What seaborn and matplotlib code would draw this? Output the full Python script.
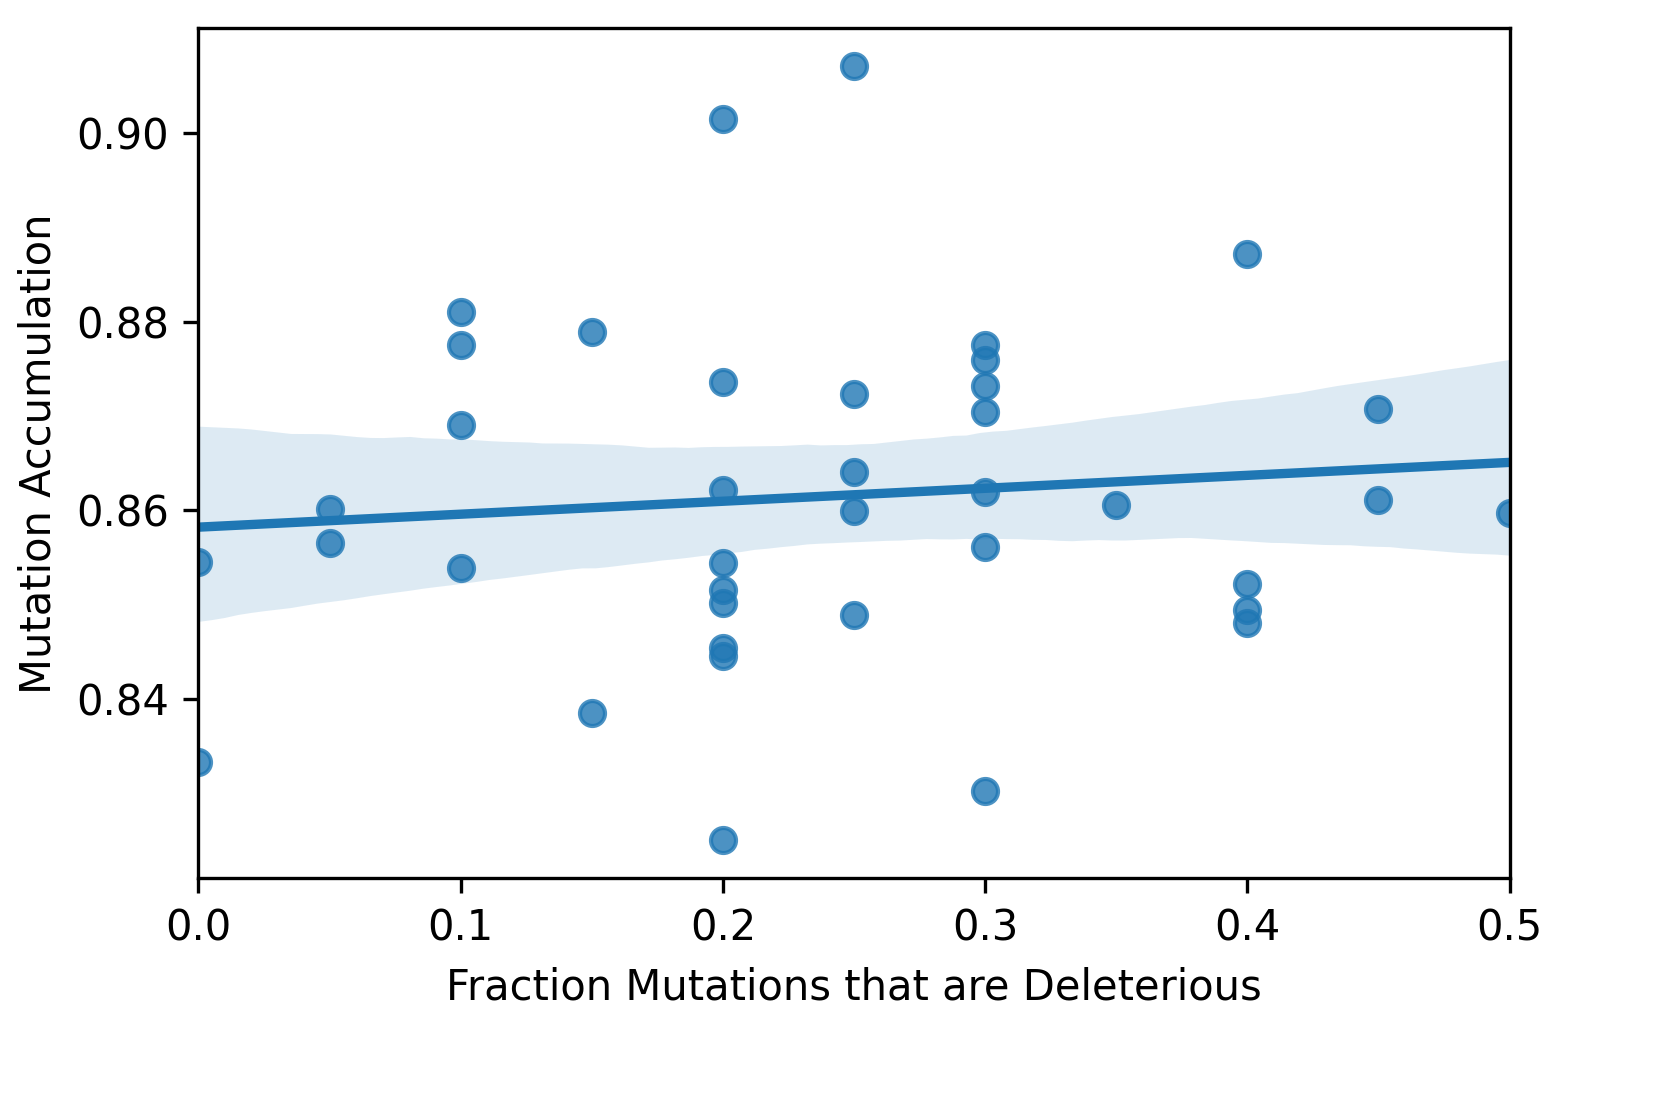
import numpy as np
import pandas as pd
import seaborn as sns
import matplotlib.pyplot as plt

# Values
frac_deleterious = [0.0, 0.0,
                    0.05, 0.05,
                    0.1, 0.1, 0.1, 0.1,
                    0.15, 0.15,
                    0.2, 0.2, 0.2, 0.2, 0.2, 0.2, 0.2, 0.2, 0.2,
                    0.25, 0.25, 0.25, 0.25, 0.25,
                    0.3, 0.3, 0.3, 0.3, 0.3, 0.3, 0.3,
                    0.35,
                    0.4, 0.4, 0.4, 0.4,
                    0.45, 0.45,
                    0.5]
mutation_acc = [0.8545, 0.8333,
                0.8602, 0.8565,
                0.8810, 0.8775, 0.8691, 0.8539,
                0.8789, 0.8385,
                0.9015, 0.8736, 0.8622, 0.8544, 0.8516, 0.8502, 0.8454, 0.8446, 0.8250,
                0.9071, 0.8723, 0.8641, 0.8599, 0.8489,
                0.8775, 0.8759, 0.8732, 0.8704, 0.8619, 0.8561, 0.8302,
                0.8606,
                0.8872, 0.8522, 0.8494, 0.8481,
                0.8707, 0.8611,
                0.8597]

data = pd.DataFrame({"frac": frac_deleterious, "acc": mutation_acc})

fig, ax = plt.subplots(figsize=(5.56, 3.65))
sns.regplot(data=data, x="frac", y="acc", ax=ax, seed=0)
ax.set_xlim(0, 0.5)
ax.set_ylim(0.821, 0.9111)
ax.set_yticks([0.84, 0.86, 0.88, 0.90])
ax.set_xlabel("Fraction Mutations that are Deleterious")
ax.set_ylabel("Mutation Accumulation")
plt.subplots_adjust(left=0.119, right=0.905, top=0.974, bottom=0.198)
plt.savefig("out.png", dpi=300)
